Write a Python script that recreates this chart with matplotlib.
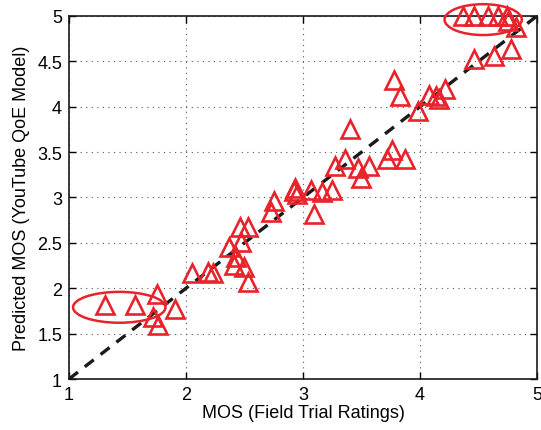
import matplotlib
matplotlib.use('Agg')
import matplotlib.pyplot as plt
from matplotlib.patches import Ellipse

# ── Data ───────────────────────────────────────────────────────────────────
mos_field = [
    1.31, 1.56, 1.75, 1.91, 1.72, 1.76,
    2.05, 2.19, 2.23, 2.37, 2.46, 2.53, 2.47, 2.43, 2.41, 2.50, 2.53,
    2.75, 2.73, 2.92, 2.93, 2.95, 3.07, 3.16, 3.25, 3.09,
    3.27, 3.36, 3.47, 3.56, 3.50, 3.40, 3.72, 3.76, 3.87,
    3.78, 3.83, 3.98, 4.08, 4.14, 4.16, 4.21,
    4.46, 4.63, 4.78,
    4.37, 4.46, 4.58, 4.67, 4.74, 4.75, 4.82,
]
mos_pred = [
    1.82, 1.82, 1.94, 1.77, 1.68, 1.60,
    2.17, 2.18, 2.17, 2.45, 2.67, 2.67, 2.51, 2.34, 2.26, 2.23, 2.07,
    2.96, 2.84, 3.07, 3.10, 3.04, 3.08, 3.06, 3.08, 2.82,
    3.35, 3.42, 3.33, 3.35, 3.22, 3.75, 3.42, 3.52, 3.42,
    4.29, 4.12, 3.95, 4.13, 4.12, 4.09, 4.20,
    4.53, 4.56, 4.64,
    5.00, 5.00, 5.00, 5.00, 5.00, 4.95, 4.88,
]

# highlighted groups: (center x, center y, width, height)
ellipses = [
    (1.43, 1.79, 0.79, 0.34),
    (4.54, 4.96, 0.66, 0.34),
]

ticks_x = [1, 2, 3, 4, 5]
ticks_y = [1, 1.5, 2, 2.5, 3, 3.5, 4, 4.5, 5]

RED = '#e8232b'

plt.rcParams['font.family'] = ['Liberation Sans', 'DejaVu Sans']

fig = plt.figure(figsize=(5.41, 4.31), dpi=100)
ax = fig.add_axes([0.1275, 0.1183, 0.8651, 0.8423])

ax.plot([1, 5], [1, 5], color='#1a1a1a', linestyle=(0, (3.4, 2.6)),
        linewidth=2.4, zorder=2)

ax.plot(mos_field, mos_pred, linestyle='none', marker='^', markersize=13,
        markerfacecolor='none', markeredgecolor=RED, markeredgewidth=1.9,
        clip_on=False, zorder=3)

for cx, cy, w, h in ellipses:
    ax.add_patch(Ellipse((cx, cy), w, h, fill=False, edgecolor=RED,
                         linewidth=1.8, clip_on=False, zorder=3))

ax.set_xlim(1, 5)
ax.set_ylim(1, 5)
ax.set_xticks(ticks_x)
ax.set_yticks(ticks_y)
ax.set_xticklabels([f'{t:g}' for t in ticks_x])
ax.set_yticklabels([f'{t:g}' for t in ticks_y])

ax.grid(True, linestyle=(0, (1, 4)), color='#555555', linewidth=0.8)
ax.tick_params(direction='in', top=True, right=True, length=5,
               labelsize=13, pad=5, width=1)
for spine in ax.spines.values():
    spine.set_linewidth(1.2)
    spine.set_color('#1a1a1a')

ax.set_xlabel('MOS (Field Trial Ratings)', fontsize=13, labelpad=1)
ax.set_ylabel('Predicted MOS (YouTube QoE Model)', fontsize=13, labelpad=5)

fig.savefig('out.png', dpi=100)
